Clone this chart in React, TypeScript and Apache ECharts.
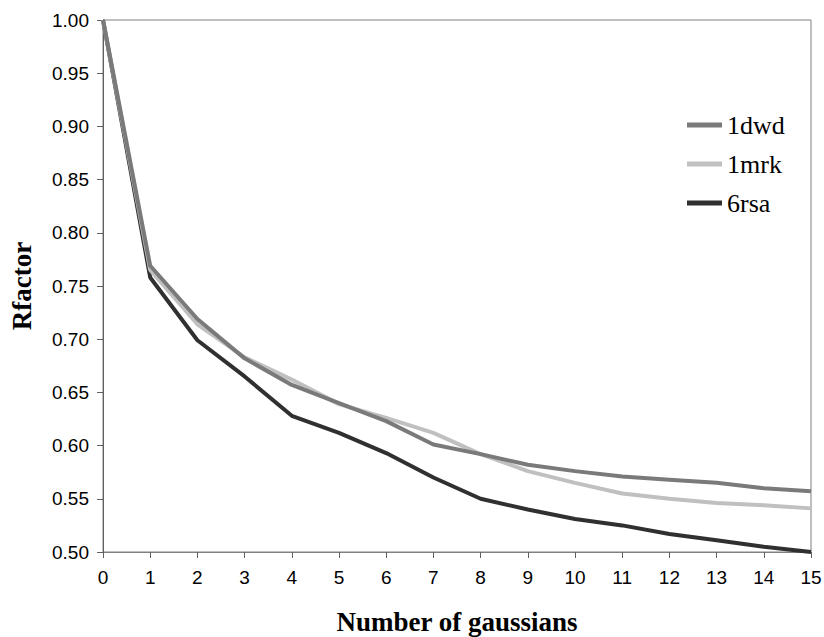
import React, { useEffect, useRef } from "react";
import * as echarts from "echarts";

const xValues = [0, 1, 2, 3, 4, 5, 6, 7, 8, 9, 10, 11, 12, 13, 14, 15];
const s1dwd = [1.0, 0.769, 0.719, 0.682, 0.657, 0.640, 0.623, 0.601, 0.592, 0.582, 0.576, 0.571, 0.568, 0.565, 0.560, 0.557];
const s1mrk = [1.0, 0.765, 0.714, 0.683, 0.662, 0.639, 0.626, 0.612, 0.592, 0.576, 0.565, 0.555, 0.550, 0.546, 0.544, 0.541];
const s6rsa = [1.0, 0.758, 0.699, 0.665, 0.628, 0.612, 0.593, 0.570, 0.550, 0.540, 0.531, 0.525, 0.517, 0.511, 0.505, 0.500];
const seriesNames = ["1dwd", "1mrk", "6rsa"];
const seriesColors = ["#7a7a7a", "#c0c0c0", "#303030"];

export default function App() {
  const ref = useRef<HTMLDivElement>(null);
  useEffect(() => {
    if (!ref.current) return;
    const chart = echarts.init(ref.current, null, { renderer: "svg" });
    const all = [s1dwd, s1mrk, s6rsa];
    chart.setOption({
      animation: false,
      backgroundColor: "#ffffff",
      grid: {
        left: 103,
        right: 13,
        top: 20,
        bottom: 85,
        containLabel: false,
        outerBoundsMode: "none",
        show: true,
        borderColor: "#808080",
        borderWidth: 1,
      },
      legend: {
        orient: "vertical",
        left: 682,
        top: 107,
        itemWidth: 35,
        itemHeight: 5,
        itemGap: 13,
        icon: "rect",
        data: seriesNames,
        textStyle: {
          fontFamily: "Liberation Serif",
          fontSize: 26,
          color: "#000",
        },
      },
      xAxis: {
        type: "value",
        min: 0,
        max: 15,
        interval: 1,
        name: "Number of gaussians",
        nameLocation: "middle",
        nameGap: 56,
        nameTextStyle: {
          fontFamily: "Liberation Serif",
          fontWeight: "bold",
          fontSize: 27,
          color: "#000",
        },
        axisLine: { lineStyle: { color: "#808080", width: 1 } },
        axisTick: { show: true, length: 6, lineStyle: { color: "#606060" } },
        axisLabel: {
          fontFamily: "Liberation Sans",
          fontSize: 19,
          color: "#000",
          margin: 16,
        },
        splitLine: { show: false },
      },
      yAxis: {
        type: "value",
        min: 0.5,
        max: 1.0,
        interval: 0.05,
        name: "Rfactor",
        nameLocation: "middle",
        nameGap: 68,
        nameTextStyle: {
          fontFamily: "Liberation Serif",
          fontWeight: "bold",
          fontSize: 27,
          color: "#000",
        },
        axisLine: { show: true, lineStyle: { color: "#606060", width: 1 } },
        axisTick: { show: true, length: 6, lineStyle: { color: "#606060" } },
        axisLabel: {
          fontFamily: "Liberation Sans",
          fontSize: 19,
          color: "#000",
          margin: 14,
          formatter: (v: number) => v.toFixed(2),
        },
        splitLine: { show: false },
      },
      series: seriesNames.map((name, i) => ({
        name,
        type: "line",
        data: xValues.map((x, j) => [x, all[i][j]]),
        showSymbol: false,
        symbol: "none",
        itemStyle: { color: seriesColors[i] },
        lineStyle: { color: seriesColors[i], width: 4 },
        z: 3 - i,
      })),
    });
    return () => chart.dispose();
  }, []);
  return (
    <div
      ref={ref}
      style={{ position: "fixed", left: 0, top: 0, width: 824, height: 637 }}
    />
  );
}
